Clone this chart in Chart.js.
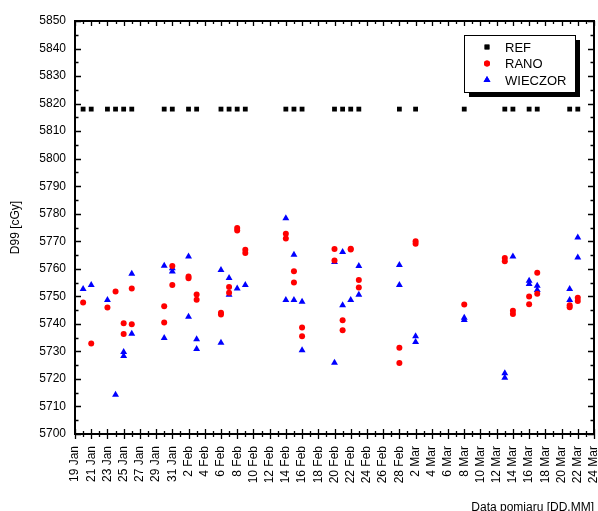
<!DOCTYPE html>
<html>
<head>
<meta charset="utf-8">
<script src="https://cdn.jsdelivr.net/npm/chart.js@4.4.1/dist/chart.umd.min.js"></script>
<style>
html,body{margin:0;padding:0;background:#fff;}
#wrap{width:598px;height:511px;position:relative;}
</style>
</head>
<body>
<div id="wrap"><canvas id="c" width="598" height="511"></canvas></div>
<script>
// ---- data (dates as DD.MM, year 2013) ----
const axisStart = '19.01';
const axisEnd = '24.03';
const monthNames = ['Jan', 'Feb', 'Mar', 'Apr'];
const yMin = 5700, yMax = 5850, yStep = 10;

const refDates = ['20.01','21.01','23.01','24.01','25.01','26.01','30.01','31.01','02.02','03.02',
  '06.02','07.02','08.02','09.02','14.02','15.02','16.02','20.02','21.02','22.02','23.02',
  '28.02','02.03','08.03','13.03','14.03','16.03','17.03','21.03','22.03'];
const refD99 = [5818,5818,5818,5818,5818,5818,5818,5818,5818,5818,
  5818,5818,5818,5818,5818,5818,5818,5818,5818,5818,5818,
  5818,5818,5818,5818,5818,5818,5818,5818,5818];

const ranoDates = ['20.01','21.01','23.01','24.01','25.01','25.01','26.01','26.01','30.01','30.01',
  '31.01','31.01','02.02','02.02','03.02','03.02','06.02','06.02','07.02','07.02',
  '08.02','08.02','09.02','09.02','14.02','14.02','15.02','15.02','16.02','16.02',
  '20.02','20.02','21.02','21.02','22.02','22.02','23.02','23.02','28.02','28.02',
  '02.03','02.03','08.03','13.03','13.03','14.03','14.03','16.03','16.03','17.03','17.03',
  '21.03','21.03','22.03','22.03'];
const ranoD99 = [5747.8,5732.9,5745.9,5751.8,5740.2,5736.3,5752.8,5739.9,5746.4,5740.5,
  5761.0,5754.1,5757.2,5756.6,5750.7,5748.8,5744.0,5743.4,5753.4,5751.3,
  5774.8,5773.9,5766.9,5765.7,5772.7,5771.0,5759.1,5755.0,5738.7,5735.5,
  5767.2,5763.0,5741.3,5737.7,5767.0,5767.3,5755.9,5753.2,5731.3,5725.8,
  5770.0,5769.1,5747.0,5763.9,5762.7,5744.8,5743.6,5749.9,5747.1,5758.6,5750.9,
  5746.8,5746.0,5749.5,5748.3];

const wieczorDates = ['20.01','21.01','23.01','24.01','25.01','25.01','26.01','26.01','30.01','30.01',
  '31.01','31.01','02.02','02.02','03.02','03.02','06.02','06.02','07.02','07.02',
  '08.02','09.02','14.02','14.02','15.02','15.02','16.02','16.02',
  '20.02','20.02','21.02','21.02','22.02','23.02','23.02','28.02','28.02',
  '02.03','02.03','08.03','08.03','13.03','13.03','14.03','16.03','16.03','17.03','17.03',
  '21.03','21.03','22.03','22.03'];
const wieczorD99 = [5752.7,5754.1,5748.7,5714.3,5729.8,5728.3,5758.2,5736.4,5761.1,5734.9,
  5760.2,5759.0,5764.5,5742.6,5734.4,5730.9,5759.6,5733.1,5756.7,5750.6,
  5752.8,5754.1,5778.4,5748.7,5765.1,5748.7,5748.0,5730.4,
  5762.5,5725.9,5766.1,5746.8,5748.7,5761.0,5750.6,5761.4,5754.1,
  5735.5,5733.4,5742.2,5741.4,5722.1,5720.4,5764.5,5755.7,5754.5,5753.8,5752.3,
  5752.7,5748.7,5771.4,5764.1];

// ---- helpers ----
const YEAR = 2013;
function toUTC(s){ const [d,m] = s.split('.').map(Number); return Date.UTC(YEAR, m-1, d); }
const t0 = toUTC(axisStart);
function dayIndex(s){ return Math.round((toUTC(s) - t0) / 864e5); }
function dayLabel(v){ const dt = new Date(t0 + v*864e5); return dt.getUTCDate() + ' ' + monthNames[dt.getUTCMonth()]; }
function pts(dates, vals){ return dates.map((d,i) => ({x: dayIndex(d), y: vals[i]})); }

const FONT = "Arial, 'Liberation Sans', sans-serif";

const framePlugin = {
  id: 'frame',
  afterDraw(chart){
    const {ctx, chartArea: a, scales: {x, y}} = chart;
    ctx.save();
    ctx.strokeStyle = '#000';
    ctx.lineWidth = 1.3;
    ctx.beginPath();
    for (let d = x.min; d <= x.max; d++){
      const px = Math.round(x.getPixelForValue(d)) + 0.5;
      const major = (d - x.min) % 2 === 0;
      const L = major ? 5 : 3;
      ctx.moveTo(px, a.bottom - L); ctx.lineTo(px, a.bottom + L);
      ctx.moveTo(px, a.top); ctx.lineTo(px, a.top + L);
    }
    for (let v = y.min; v <= y.max; v += yStep/2){
      const py = Math.round(y.getPixelForValue(v)) + 0.5;
      const major = (v - y.min) % yStep === 0;
      const L = major ? 6 : 3.5;
      ctx.moveTo(a.left, py); ctx.lineTo(a.left + L, py);
      ctx.moveTo(a.right, py); ctx.lineTo(a.right - L, py);
    }
    ctx.stroke();
    ctx.lineWidth = 2;
    ctx.strokeRect(a.left, a.top, a.right - a.left, a.bottom - a.top);

    // legend box with shadow
    const bx = a.right - 130, by = a.top + 14, bw = 111, bh = 57;
    ctx.fillStyle = '#000';
    ctx.fillRect(bx + 5, by + 5, bw, bh);
    ctx.fillStyle = '#fff';
    ctx.fillRect(bx, by, bw, bh);
    ctx.lineWidth = 1;
    ctx.strokeRect(bx + 0.5, by + 0.5, bw, bh);
    ctx.font = '13px ' + FONT;
    ctx.textBaseline = 'middle';
    ctx.textAlign = 'left';
    chart.data.datasets.forEach((ds, i) => {
      const cy = by + 12 + i * 16.5;
      ctx.fillStyle = ds.backgroundColor;
      Chart.helpers.drawPoint(ctx, {pointStyle: ds.pointStyle, radius: ds.pointRadius, rotation: 0, borderWidth: 0}, bx + 23, cy);
      ctx.fill();
      ctx.fillStyle = '#000';
      ctx.fillText(ds.label, bx + 41, cy + 1);
    });
    ctx.restore();
  }
};

new Chart(document.getElementById('c'), {
  type: 'scatter',
  data: {
    datasets: [
      {label: 'REF', data: pts(refDates, refD99), pointStyle: 'rect', pointRadius: 3.4, backgroundColor: '#000000', borderColor: '#000000', borderWidth: 0},
      {label: 'RANO', data: pts(ranoDates, ranoD99), pointStyle: 'circle', pointRadius: 3, backgroundColor: '#ff0000', borderColor: '#ff0000', borderWidth: 0},
      {label: 'WIECZOR', data: pts(wieczorDates, wieczorD99), pointStyle: 'triangle', pointRadius: 4, backgroundColor: '#0000ff', borderColor: '#0000ff', borderWidth: 0}
    ]
  },
  options: {
    responsive: false,
    animation: false,
    devicePixelRatio: 1,
    layout: {padding: {top: 21, right: 4, left: 0, bottom: 0}},
    plugins: {legend: {display: false}, tooltip: {enabled: false}},
    elements: {point: {hoverRadius: 3}},
    scales: {
      x: {
        type: 'linear',
        min: 0,
        max: dayIndex(axisEnd),
        grid: {display: false, drawTicks: false},
        border: {display: false},
        ticks: {
          stepSize: 2, autoSkip: false, minRotation: 90, maxRotation: 90,
          padding: 12, color: '#000', font: {family: FONT, size: 12},
          callback: v => dayLabel(v)
        },
        title: {display: true, text: 'Data pomiaru [DD.MM]', align: 'end', color: '#000',
          font: {family: FONT, size: 12, lineHeight: 0.6}, padding: {top: 0, bottom: 0}},
        afterFit: s => { s.height = 77; s.paddingLeft = 0; s.paddingRight = 0; }
      },
      y: {
        min: yMin, max: yMax,
        grid: {display: false, drawTicks: false},
        border: {display: false},
        ticks: {stepSize: yStep, padding: 9, color: '#000', font: {family: FONT, size: 12},
          callback: v => String(v)},
        title: {display: true, text: 'D99 [cGy]', color: '#000',
          font: {family: FONT, size: 12, lineHeight: 1.2}, padding: {top: 8, bottom: 0}},
        afterFit: s => { s.width = 75; s.paddingTop = 0; s.paddingBottom = 0; }
      }
    }
  },
  plugins: [framePlugin]
});
</script>
</body>
</html>
